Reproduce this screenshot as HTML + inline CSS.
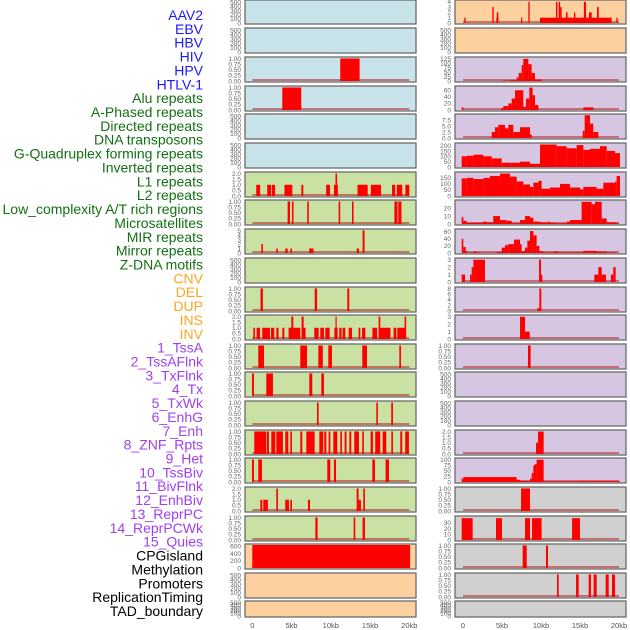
<!DOCTYPE html>
<html><head><meta charset="utf-8">
<style>
html,body{margin:0;padding:0;background:#fff;width:630px;height:630px;overflow:hidden}
svg{display:block}
</style></head>
<body>
<svg id="chart" width="630" height="630" xmlns="http://www.w3.org/2000/svg"></svg>
<script>
// ---- data: segments [startKb, endKb, value] ----
const trackLabels = ["AAV2","EBV","HBV","HIV","HPV","HTLV-1","Alu repeats","A-Phased repeats","Directed repeats","DNA transposons","G-Quadruplex forming repeats","Inverted repeats","L1 repeats","L2 repeats","Low_complexity A/T rich regions","Microsatellites","MIR repeats","Mirror repeats","Z-DNA motifs","CNV","DEL","DUP","INS","INV","1_TssA","2_TssAFlnk","3_TxFlnk","4_Tx","5_TxWk","6_EnhG","7_Enh","8_ZNF_Rpts","9_Het","10_TssBiv","11_BivFlnk","12_EnhBiv","13_ReprPC","14_ReprPCWk","15_Quies","CPGisland","Methylation","Promoters","ReplicationTiming","TAD_boundary"];
const labelColors = ["#1a1aff","#1a1aff","#1a1aff","#1a1aff","#1a1aff","#1a1aff","#137013","#137013","#137013","#137013","#137013","#137013","#137013","#137013","#137013","#137013","#137013","#137013","#137013","#ffa520","#ffa520","#ffa520","#ffa520","#ffa520","#a040f0","#a040f0","#a040f0","#a040f0","#a040f0","#a040f0","#a040f0","#a040f0","#a040f0","#a040f0","#a040f0","#a040f0","#a040f0","#a040f0","#a040f0","#000","#000","#000","#000","#000"];

const L3 = [[11.2,13.67,1]];
const L4 = [[3.82,6.24,1]];
const L7 = [[0.5,1.0,1],[1.9,2.4,1],[2.5,2.9,1],[4.1,5.1,1],[6.25,6.5,1],[9.4,9.9,1],[10.4,10.9,1],[10.6,10.8,2],[13.4,14.7,1],[15.1,16.4,1],[17.8,18.2,1],[18.4,19.1,1],[19.5,20.0,1]];
const L8 = [[4.5,4.8,1],[5.05,5.25,1],[7.0,7.2,1],[11.0,11.2,1],[12.7,12.9,1],[18.1,18.5,1],[18.6,19.0,1]];
const L9 = [[1.15,1.35,2],[3.05,3.25,1],[4.2,4.5,1],[4.85,5.05,1],[7.25,7.8,1],[13.3,13.6,1],[14.05,14.3,5]];
const L11 = [[1.05,1.35,1],[7.95,8.25,1],[12.1,12.35,1]];
const L12 = [[0.13,0.34,1],[0.55,0.98,1],[1.27,2.25,1],[2.38,2.8,1],[3.06,3.35,1],[3.82,4.08,1],[4.62,6.11,1],[4.97,5.22,2],[6.28,6.79,1],[6.28,6.54,2],[7.9,8.45,1],[8.66,9.13,1],[9.3,9.85,1],[10.45,10.87,1],[10.6,10.75,2],[11.08,11.37,1],[11.5,11.85,1],[12.27,12.7,1],[13.54,13.76,1],[13.97,14.4,1],[15.3,15.9,1],[16.1,17.6,1],[16.09,16.3,2],[18.0,18.35,1],[18.47,19.5,1],[19.4,19.6,2]];
const L13 = [[0.76,1.49,1],[6.11,6.97,1],[8.41,8.98,1],[9.68,10.15,1],[14.01,14.61,1],[18.73,18.94,1]];
const L14 = [[-0.04,0.21,1],[1.78,2.63,1],[7.26,7.64,1],[8.79,9.13,1]];
const L15 = [[8.24,8.45,1],[15.8,16.0,1],[17.7,17.92,1]];
const L16 = [[0.25,1.78,1],[1.87,2.12,1],[2.42,2.93,1],[3.06,3.9,1],[4.2,4.59,1],[4.84,5.05,1],[6.11,6.37,1],[6.88,7.94,1],[8.54,9.04,1],[9.17,9.43,1],[9.72,9.94,1],[10.32,10.83,1],[11.21,11.42,1],[11.76,12.0,1],[12.36,12.61,1],[12.99,13.59,1],[14.01,14.22,1],[15.07,15.37,1],[15.66,16.3,1],[16.6,17.07,1],[17.71,17.92,1],[18.85,19.1,1],[19.48,19.95,1]];
const L17 = [[-0.04,0.21,1],[0.76,1.23,1],[9.55,9.94,1],[10.4,10.66,1],[15.29,15.63,1],[16.98,17.41,1]];
const L18 = [[1.02,1.27,1],[1.4,1.99,1],[3.06,3.27,2],[4.2,4.67,1],[4.84,5.05,1],[7.09,7.35,1],[13.29,13.54,2],[13.54,13.84,1],[14.14,14.35,2]];
const L19 = [[8.03,8.32,1],[12.91,13.12,1],[14.05,14.35,1]];
const L20 = [[0,20.1,640]];

const R1 = [[0.17,0.34,1],[3.76,3.94,3],[4.27,4.53,1],[4.33,4.53,2],[7.44,7.6,1],[8.38,8.55,4],[9.87,19.06,1],[11.92,12.1,4],[12.26,12.45,4],[12.45,12.65,3],[13.2,13.4,2],[14.23,14.4,2],[15.5,15.77,4],[16.15,16.5,2],[17.18,17.4,3],[19.66,19.83,1]];
const R3 = [[5.17,6.03,3],[6.03,6.88,5],[6.88,7.14,20],[7.14,7.52,45],[7.52,7.73,90],[7.73,8.38,125],[8.38,8.8,95],[8.8,9.23,45],[9.23,10.08,8]];
const R4 = [[-0.17,0.05,8],[4.87,5.17,5],[5.17,5.81,12],[5.81,6.24,20],[6.24,6.67,35],[6.67,7.73,60],[7.73,8.08,10],[8.08,8.5,35],[8.5,8.93,68],[8.93,9.23,45],[9.23,9.66,15],[15.43,16.71,8]];
const R5 = [[3.68,4.1,2.5],[4.1,4.53,4.5],[4.53,5.38,5.5],[5.38,5.81,4],[5.81,6.45,5.5],[6.45,7.31,2.5],[7.31,8.59,4.5],[8.59,8.8,1.5],[15.35,15.6,3],[15.6,16.28,9.5],[16.28,16.7,6],[16.7,17.35,2.5]];
const R6 = [[-0.17,0.47,100],[0.47,1.33,105],[1.33,2.61,115],[2.61,3.68,100],[3.68,4.96,80],[4.96,6.24,40],[6.24,7.31,40],[7.31,8.59,50],[8.59,9.87,30],[9.87,12.01,210],[12.01,13.29,195],[13.29,14.57,175],[14.57,15.43,205],[15.43,16.28,160],[16.28,17.56,170],[17.56,18.42,195],[18.42,19.49,150],[19.49,20.13,130]];
const R7 = [[-0.17,0.47,145],[0.47,1.33,150],[1.33,2.61,140],[2.61,3.46,150],[3.46,4.74,165],[4.74,6.03,185],[6.03,6.88,160],[6.88,7.74,120],[7.74,8.59,95],[8.59,9.02,75],[9.02,9.66,110],[9.66,10.08,125],[10.08,11.15,60],[11.15,12.44,70],[12.44,13.72,100],[13.72,15.0,70],[15.0,15.43,55],[15.43,17.14,75],[17.14,17.99,60],[17.99,19.49,110],[19.49,19.7,120],[19.7,20.13,165]];
const R8 = [[-0.17,0.04,9],[0.04,0.47,4],[0.47,2.61,1.5],[2.61,3.03,3],[3.03,3.88,2],[3.88,4.74,10],[4.74,5.6,5],[5.6,6.24,4],[6.24,7.31,1],[7.31,7.95,5],[7.95,8.59,10],[8.59,9.02,8],[9.02,9.87,3],[9.87,10.94,2],[10.94,11.15,3],[11.15,12.01,1.5],[12.01,13.29,1],[13.29,13.72,3],[13.72,15.21,5],[15.21,16.5,28],[16.5,16.92,25],[16.92,17.78,28],[17.78,18.42,7],[18.42,19.7,2],[19.7,20.0,1]];
const R9 = [[-0.17,0.04,40],[0.04,0.34,17],[0.34,0.56,5],[0.56,1.33,1],[1.33,1.76,4],[1.76,2.18,2],[2.18,4.32,0.5],[4.32,4.96,3],[4.96,5.38,15],[5.38,5.81,22],[5.81,6.54,25],[6.54,7.31,38],[7.31,7.52,25],[7.52,7.95,5],[7.95,8.25,15],[8.25,8.59,35],[8.59,9.02,62],[9.02,9.44,50],[9.44,9.79,20],[9.79,10.3,5],[10.3,11.58,2],[11.58,12.22,4],[12.22,15.43,2],[15.43,17.14,6],[17.14,18.42,4],[18.42,19.7,2]];
const R10 = [[-0.17,0.26,1],[0.9,1.11,1],[1.11,1.33,2],[1.33,2.82,3],[9.75,10.0,3],[10.0,10.17,1],[16.84,17.35,1],[17.35,17.78,2],[17.78,18.33,1],[18.97,19.27,1],[19.27,19.57,2]];
const R11 = [[9.53,9.79,1],[9.79,10.04,8]];
const R12 = [[7.31,7.95,3],[7.95,8.55,1]];
const R13 = [[8.33,8.67,1]];
const R16 = [[9.36,9.62,1],[9.62,10.34,2]];
const R17 = [[-0.17,0.04,15],[0.04,6.88,22],[6.88,7.31,10],[7.31,8.59,5],[8.59,8.8,15],[8.8,9.02,40],[9.02,9.23,75],[9.23,9.44,80],[9.44,10.34,100],[10.34,14.8,3],[14.8,20.13,4]];
const R18 = [[7.44,8.59,1]];
const R19 = [[-0.17,1.24,38],[4.23,5.0,38],[7.95,8.59,38],[8.85,10.08,38],[13.98,15.0,38]];
const R20 = [[7.65,8.17,1],[10.64,10.9,1]];
const R21 = [[12.05,12.27,1],[14.49,14.83,1],[16.11,16.41,1],[16.75,17.14,1],[18.29,18.68,1],[19.1,19.49,1]];

const T_EMPTY = ["0","100","200","300","400","500"];
const T_ONE = ["0.00","0.25","0.50","0.75","1.00"];
const T_TWO = ["0.0","0.5","1.0","1.5","2.0"];
const xTickLabels = ["0","5kb","10kb","15kb","20kb"];
const xTickValues = [0,5,10,15,20];

const leftTracks = [
 [null,530,T_EMPTY],[null,530,T_EMPTY],[L3,1.02,T_ONE],[L4,1.02,T_ONE],[null,530,T_EMPTY],[null,530,T_EMPTY],
 [L7,2.05,T_TWO],[L8,1.02,T_ONE],[L9,5.1,["0","1","2","3","4","5"]],[null,530,T_EMPTY],[L11,1.02,T_ONE],[L12,2.05,T_TWO],
 [L13,1.02,T_ONE],[L14,1.02,T_ONE],[L15,1.02,T_ONE],[L16,1.02,T_ONE],[L17,1.02,T_ONE],[L18,2.05,T_TWO],[L19,1.02,T_ONE],
 [L20,640,["0","200","400","600"]],[null,530,T_EMPTY],[null,530,T_EMPTY]];
const rightTracks = [
 [R1,4.15,["0","1","2","3","4"]],[null,530,T_EMPTY],[R3,130,["0","25","50","75","100","125"]],[R4,70,["0","20","40","60"]],
 [R5,9.6,["0.0","2.5","5.0","7.5"]],[R6,215,["0","50","100","150","200"]],[R7,190,["0","50","100","150"]],[R8,29,["0","10","20"]],
 [R9,65,["0","20","40","60"]],[R10,3.1,["0","1","2","3"]],[R11,8.2,["0","2","4","6","8"]],[R12,3.1,["0","1","2","3"]],
 [R13,1.02,T_ONE],[null,530,T_EMPTY],[null,530,T_EMPTY],[R16,2.05,T_TWO],[R17,103,["0","25","50","75","100"]],
 [R18,1.02,T_ONE],[R19,40,["0","10","20","30"]],[R20,1.02,T_ONE],[R21,1.02,T_ONE],[null,530,T_EMPTY]];

const leftBg = ["#c8e3ea","#c8e3ea","#c8e3ea","#c8e3ea","#c8e3ea","#c8e3ea","#c9e1a2","#c9e1a2","#c9e1a2","#c9e1a2","#c9e1a2","#c9e1a2","#c9e1a2","#c9e1a2","#c9e1a2","#c9e1a2","#c9e1a2","#c9e1a2","#c9e1a2","#fdd09f","#fdd09f","#fdd09f"];
const rightBg = ["#fdd09f","#fdd09f","#d6c6e2","#d6c6e2","#d6c6e2","#d6c6e2","#d6c6e2","#d6c6e2","#d6c6e2","#d6c6e2","#d6c6e2","#d6c6e2","#d6c6e2","#d6c6e2","#d6c6e2","#d6c6e2","#d6c6e2","#d0d0d0","#d0d0d0","#d0d0d0","#d0d0d0","#d0d0d0"];

// ---- layout ----
const NS = "http://www.w3.org/2000/svg";
const svg = document.getElementById('chart');
const rowTops = [0,28,57,86,114,143,172,200,229,258,287,315,344,372,401,430,458,487,516,544,573,601];
function rowH(i){ return i===21 ? 16 : (i===0 ? 24 : 25); }
const cols = [{x0:245,x1:416,k0:252.3,k20:409.3,tickX:241},{x0:455,x1:626,k0:463,k20:619,tickX:451}];
function mk(tag, attrs){ const e=document.createElementNS(NS,tag); for(const k in attrs) e.setAttribute(k,attrs[k]); svg.appendChild(e); return e; }

// labels
trackLabels.forEach((t,i)=>{
  const e = mk('text',{x:203,y:20+i*13.86,'text-anchor':'end','font-family':'Liberation Sans, sans-serif','font-size':14,fill:labelColors[i]});
  e.textContent = t;
  
  
});

function drawCol(c, tracks, bgs, side){
  const xs = kb => c.k0 + (c.k20-c.k0)*kb/20;
  tracks.forEach((tr,i)=>{
    const [segs,ymax,ticks] = tr;
    const top=rowTops[i], h=rowH(i), bot=top+h-1;
    const ys = v => bot - (h-2)*Math.min(v,ymax)/ymax;
    const bg = mk('rect',{x:c.x0,y:top,width:c.x1-c.x0,height:h,fill:bgs[i],stroke:'#6b6b6b','stroke-width':1.3});
    
    
    // ticks
    const tmax = parseFloat(ticks[ticks.length-1]);
    ticks.forEach(tl=>{
      const v=parseFloat(tl);
      const yy = segs ? ys(v) : bot - (h-2)*v/ymax;
      const t = mk('text',{x:c.tickX,y:yy+2.3,'text-anchor':'end','font-family':'Liberation Sans, sans-serif','font-size':6.5,fill:'#666'});
      t.textContent = tl;
      
      
    });
    if(segs){
      const base = mk('rect',{x:xs(0),y:bot-2,width:xs(20)-xs(0),height:2,fill:'#b83030',opacity:0.6});
      
      
      segs.forEach(s=>{
        const x1=xs(s[0]), x2=xs(s[1]), y=ys(s[2]);
        const r = mk('rect',{x:x1,y:y,width:Math.max(1,x2-x1),height:bot-y,fill:'#ff0000'});
        
        
      });
    }
  });
  xTickValues.forEach((v,j)=>{
    const t = mk('text',{x:xs(v),y:628,'text-anchor':'middle','font-family':'Liberation Sans, sans-serif','font-size':7.5,fill:'#555'});
    t.textContent = xTickLabels[j];
    
    
  });
}
drawCol(cols[0], leftTracks, leftBg, 'left');
drawCol(cols[1], rightTracks, rightBg, 'right');
</script>
</body></html>
